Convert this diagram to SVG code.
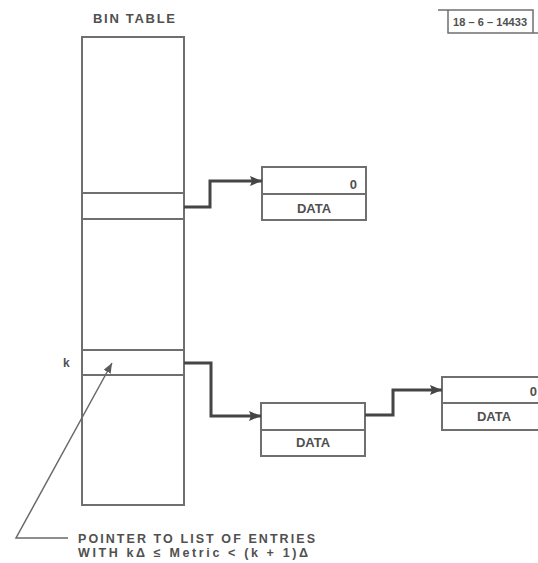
<svg xmlns="http://www.w3.org/2000/svg" width="538" height="563" viewBox="0 0 538 563">
<style>
.box{fill:none;stroke:#6f6f6f;stroke-width:2}
.conn{fill:none;stroke:#454545;stroke-width:3;stroke-linejoin:miter}
.ptr{fill:none;stroke:#6a6a6a;stroke-width:1.5}
.t{font-family:"Liberation Sans",Arial,sans-serif;font-weight:bold;fill:#505050}
</style>
<defs>
<marker id="ah" viewBox="0 0 12 10" refX="12" refY="5" markerWidth="12" markerHeight="10" markerUnits="userSpaceOnUse" orient="auto">
<path d="M0,0 L12,5 L0,10 L2,5 Z" fill="#454545"/>
</marker>
<marker id="ah2" viewBox="0 0 10 8" refX="10" refY="4" markerWidth="10" markerHeight="8" markerUnits="userSpaceOnUse" orient="auto">
<path d="M0,0 L10,4 L0,8 Z" fill="#5a5a5a"/>
</marker>
</defs>
<rect width="538" height="563" fill="#ffffff"/>

<g id="title">
<text class="t" x="93" y="23" font-size="13" textLength="82" lengthAdjust="spacing">BIN TABLE</text>
</g>

<g id="figlabel">
<path d="M438,10 H533 V33 H448 V10 M533,33 H538" fill="none" stroke="#6f6f6f" stroke-width="1.5"/>
<text class="t" x="453" y="26" font-size="11" textLength="74" lengthAdjust="spacing">18 – 6 – 14433</text>
</g>

<g id="bin-table">
<rect class="box" x="82" y="37" width="102" height="468"/>
<line class="box" x1="82" y1="193" x2="184" y2="193"/>
<line class="box" x1="82" y1="219" x2="184" y2="219"/>
<line class="box" x1="82" y1="350" x2="184" y2="350"/>
<line class="box" x1="82" y1="375" x2="184" y2="375"/>
<text class="t" x="63" y="367" font-size="12">k</text>
</g>

<g id="node1">
<rect class="box" x="262" y="167" width="104" height="53"/>
<line class="box" x1="262" y1="194" x2="366" y2="194"/>
<text class="t" x="357" y="189" font-size="13" text-anchor="end">0</text>
<text class="t" x="314" y="213" font-size="13" text-anchor="middle">DATA</text>
</g>

<g id="node2">
<rect class="box" x="261" y="403" width="104" height="53"/>
<line class="box" x1="261" y1="430" x2="365" y2="430"/>
<text class="t" x="313" y="447" font-size="13" text-anchor="middle">DATA</text>
</g>

<g id="node3">
<rect class="box" x="442" y="377" width="104" height="53"/>
<line class="box" x1="442" y1="403" x2="546" y2="403"/>
<text class="t" x="537" y="396" font-size="13" text-anchor="end">0</text>
<text class="t" x="494" y="421" font-size="13" text-anchor="middle">DATA</text>
</g>

<g id="connectors">
<path class="conn" d="M184,207 H210 V181 H262" marker-end="url(#ah)"/>
<path class="conn" d="M184,363 H211 V416 H261" marker-end="url(#ah)"/>
<path class="conn" d="M365,415 H393 V390 H442" marker-end="url(#ah)"/>
<path class="ptr" d="M68,538 H16 L112,363" marker-end="url(#ah2)"/>
</g>

<g id="note">
<text class="t" x="78" y="543" font-size="12.5" textLength="237" lengthAdjust="spacing">POINTER TO LIST OF ENTRIES</text>
<text class="t" x="78" y="557" font-size="12.5" textLength="230" lengthAdjust="spacing">WITH kΔ ≤ Metric &lt; (k + 1)Δ</text>
</g>
</svg>
